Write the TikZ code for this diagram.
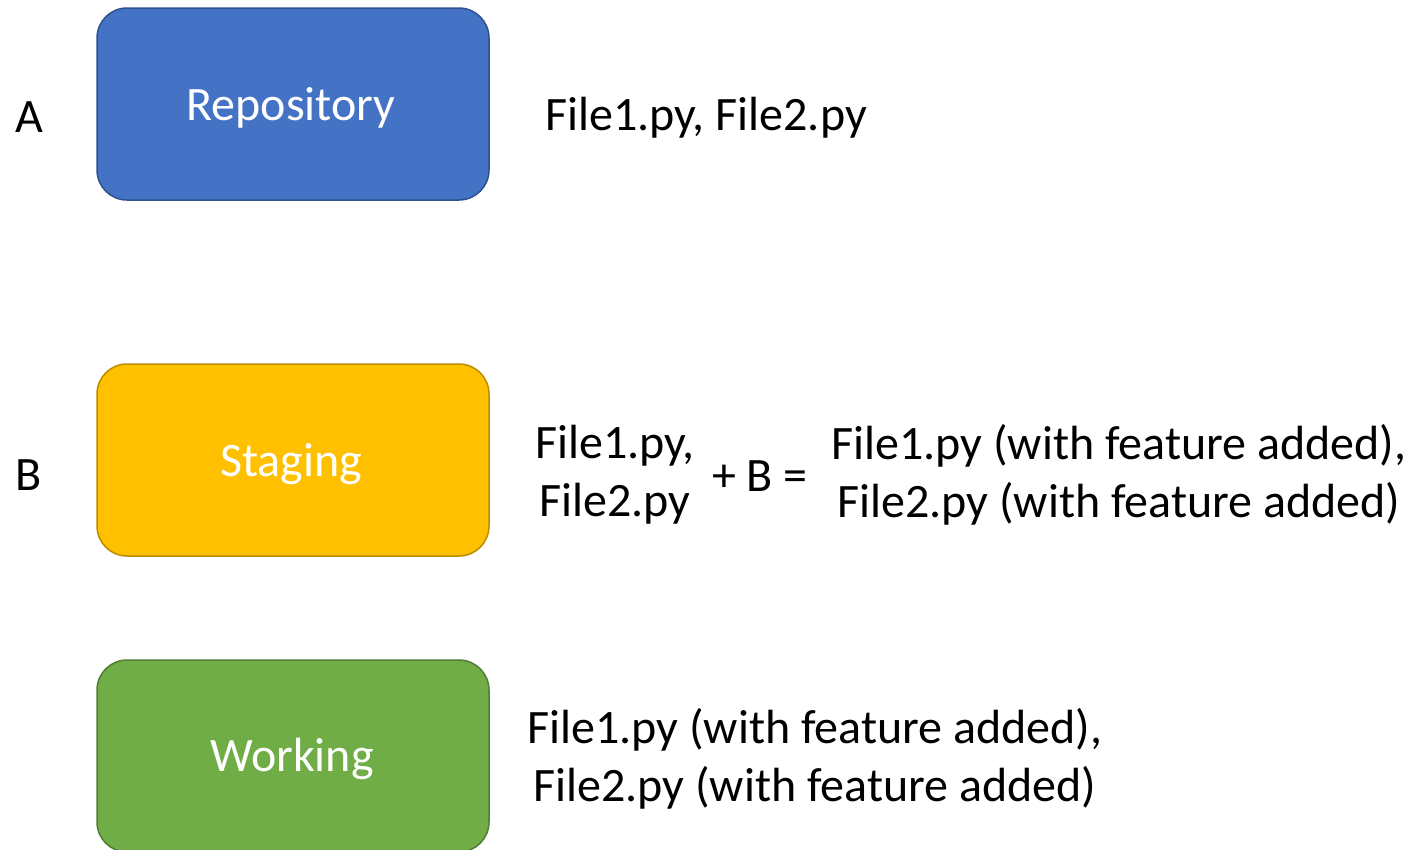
\documentclass[tikz,border=0pt]{standalone}
\usepackage{fontspec}
\setmainfont{Carlito}
\definecolor{repofill}{HTML}{4472C4}
\definecolor{repoline}{HTML}{2F528F}
\definecolor{stagefill}{HTML}{FFC000}
\definecolor{stageline}{HTML}{BC8C00}
\definecolor{workfill}{HTML}{70AD47}
\definecolor{workline}{HTML}{507E32}
\begin{document}
\begin{tikzpicture}[x=1pt,y=-1pt,
  stagebox/.style={draw, line width=1.5pt, rounded corners=30pt, minimum width=392pt, minimum height=192pt, text=white, inner sep=0pt},
  lbl/.style={font=\fontsize{48}{58}\selectfont, inner sep=0pt, align=center, text=black}]
\useasboundingbox (0,0) rectangle (1414,849);
\begin{scope}
\clip (0,0) rectangle (1414,849);
\node[stagebox, fill=repofill, draw=repoline] (repo) at (293,104) {};
\node[stagebox, fill=stagefill, draw=stageline] (stage) at (293,460) {};
\node[stagebox, fill=workfill, draw=workline] (work) at (293,756) {};
\end{scope}
\node[lbl, text=white] (repot) at (291,108) {Repository};
\node[lbl, text=white] (staget) at (291,464) {Staging};
\node[lbl, text=white] (workt) at (292,759) {Working};
\node[lbl] (a) at (29,117) {A};
\node[lbl] (b) at (29,475) {B};
\node[lbl, anchor=west] (f1) at (545,118) {File1.py, File2.py};
\node[lbl] (f2) at (615,475) {File1.py,\\File2.py};
\node[lbl] (plus) at (760,476) {+ B =};
\node[lbl] (f3) at (1119,475) {File1.py (with feature added),\\File2.py (with feature added)};
\node[lbl] (f4) at (815,759) {File1.py (with feature added),\\File2.py (with feature added)};
\end{tikzpicture}
\end{document}
